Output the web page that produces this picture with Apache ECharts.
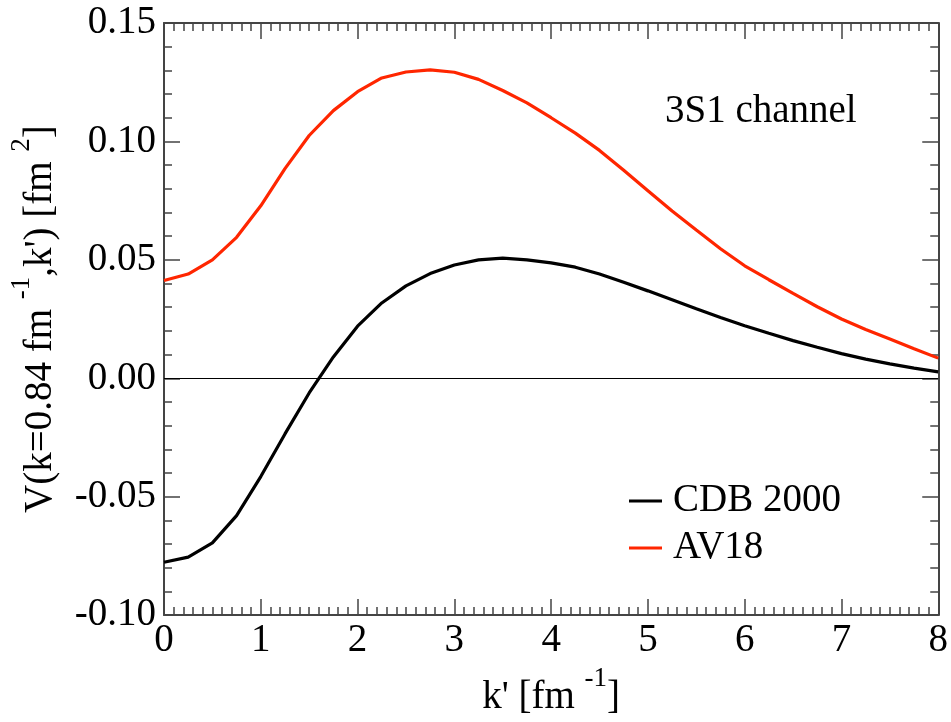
<!DOCTYPE html>
<html>
<head>
<meta charset="utf-8">
<script src="https://cdn.jsdelivr.net/npm/echarts@6/dist/echarts.min.js"></script>
<style>
html,body{margin:0;padding:0;background:#fff;}
#chart{width:951px;height:722px;position:relative;z-index:1;background:#fff;}
#fontwarm{position:absolute;left:0;top:0;font:39px 'Liberation Serif';color:#fff;z-index:0;}
</style>
</head>
<body>
<span id="fontwarm">0.15 CDB 2000 AV18 3S1 channel k' [fm]</span>
<div id="chart"></div>
<script>
// k' values [fm^-1]
const kPrime = [0, 0.25, 0.5, 0.75, 1.0, 1.25, 1.5, 1.75, 2.0, 2.25, 2.5, 2.75, 3.0, 3.25, 3.5, 3.75,
  4.0, 4.25, 4.5, 4.75, 5.0, 5.25, 5.5, 5.75, 6.0, 6.25, 6.5, 6.75, 7.0, 7.25, 7.5, 7.75, 8.0];
// CDB 2000
const cdb2000 = [-0.0777, -0.0755, -0.0695, -0.0580, -0.0415, -0.0235, -0.0062, 0.0090, 0.0220, 0.0318,
  0.0390, 0.0442, 0.0478, 0.0500, 0.0507, 0.0500, 0.0487, 0.0469, 0.0440, 0.0405, 0.0369, 0.0331,
  0.0293, 0.0257, 0.0222, 0.0190, 0.0159, 0.0131, 0.0104, 0.0081, 0.0061, 0.0043, 0.0027];
// AV18
const av18 = [0.0413, 0.0440, 0.0500, 0.0595, 0.0728, 0.0885, 0.1025, 0.1130, 0.1210, 0.1268,
  0.1293, 0.1302, 0.1292, 0.1262, 0.1215, 0.1163, 0.1100, 0.1035, 0.0962, 0.0878, 0.0792, 0.0706,
  0.0626, 0.0547, 0.0475, 0.0416, 0.0358, 0.0302, 0.0250, 0.0206, 0.0166, 0.0125, 0.0085];
const seriesNames = ['CDB 2000', 'AV18'];
const xTicks = {min: 0, max: 8, interval: 1};
const yTicks = {min: -0.10, max: 0.15, interval: 0.05};
const annotation = '3S1 channel';

const FONT = 'Liberation Serif';
const AX = '#444';

function pairs(ys) { return kPrime.map((k, i) => [k, ys[i]]); }

const richMain = {fontFamily: FONT, fontSize: 39, color: '#000', lineHeight: 52, verticalAlign: 'bottom'};
const richSup = {fontFamily: FONT, fontSize: 27, color: '#000', lineHeight: 27, verticalAlign: 'top'};

function axisCommon(showLabels, pos) {
  return {
    position: pos,
    axisLine: {show: true, onZero: false, lineStyle: {color: AX, width: 2}},
    axisTick: {show: true, inside: true, length: 16, lineStyle: {color: AX, width: 1.5}},
    minorTick: {show: true, length: 8, lineStyle: {color: AX, width: 1.5}},
    splitLine: {show: false},
    minorSplitLine: {show: false},
    axisLabel: {show: showLabels, fontFamily: FONT, fontSize: 39, color: '#000'}
  };
}

let drawn = false;
function render() {
  if (drawn) return;
  drawn = true;
  const chart = echarts.init(document.getElementById('chart'));
  const xBottom = Object.assign(axisCommon(true, 'bottom'), {
    type: 'value', min: xTicks.min, max: xTicks.max, interval: xTicks.interval,
    name: '{m|k\' [fm }{s|-1}{m|]}', nameLocation: 'middle', nameGap: 36,
    nameTextStyle: {fontFamily: FONT, rich: {m: richMain, s: richSup}}
  });
  xBottom.minorTick.splitNumber = 10;
  xBottom.axisLabel.margin = 6;
  xBottom.axisLabel.formatter = v => String(v);
  const xTop = Object.assign(axisCommon(false, 'top'), {
    type: 'value', min: xTicks.min, max: xTicks.max, interval: xTicks.interval
  });
  xTop.minorTick.splitNumber = 10;
  const yLeft = Object.assign(axisCommon(true, 'left'), {
    type: 'value', min: yTicks.min, max: yTicks.max, interval: yTicks.interval,
    name: '{m|V(k=0.84 fm }{s|-1}{m|,k\') [fm }{s|2}{m|]}', nameLocation: 'middle', nameGap: 104, nameRotate: 90,
    nameTextStyle: {fontFamily: FONT, rich: {m: richMain, s: richSup}}
  });
  yLeft.minorTick.splitNumber = 5;
  yLeft.axisLabel.margin = 8;
  yLeft.axisLabel.formatter = v => v.toFixed(2);
  const yRight = Object.assign(axisCommon(false, 'right'), {
    type: 'value', min: yTicks.min, max: yTicks.max, interval: yTicks.interval
  });
  yRight.minorTick.splitNumber = 5;

  chart.setOption({
    animation: false,
    backgroundColor: '#fff',
    textStyle: {fontFamily: FONT},
    grid: {left: 163, right: 10, top: 23, bottom: 94, containLabel: false},
    xAxis: [xBottom, xTop],
    yAxis: [yLeft, yRight],
    legend: {
      orient: 'vertical', left: 624, top: 476, itemWidth: 33, itemHeight: 3, itemGap: 7, icon: 'rect',
      textStyle: {fontFamily: FONT, fontSize: 39, color: '#000', lineHeight: 40, padding: [0, 0, 0, 6]},
      data: seriesNames
    },
    graphic: [{
      type: 'text', left: 665, top: 92,
      style: {text: annotation, fontFamily: FONT, fontSize: 39, fill: '#000'}
    }],
    series: [
      {
        name: seriesNames[0], type: 'line', xAxisIndex: 0, yAxisIndex: 0, data: pairs(cdb2000),
        showSymbol: false, symbol: 'none', lineStyle: {color: '#000', width: 3.2}, itemStyle: {color: '#000'},
        z: 3,
        markLine: {
          silent: true, symbol: 'none', label: {show: false},
          lineStyle: {color: '#000', width: 1.2, type: 'solid'},
          data: [{yAxis: 0}]
        }
      },
      {
        name: seriesNames[1], type: 'line', xAxisIndex: 0, yAxisIndex: 0, data: pairs(av18),
        showSymbol: false, symbol: 'none', lineStyle: {color: '#ff2600', width: 3.2}, itemStyle: {color: '#ff2600'},
        z: 3
      }
    ]
  });
}

if (document.fonts && document.fonts.load) {
  Promise.all([
    document.fonts.load('39px "Liberation Serif"'),
    document.fonts.load('27px "Liberation Serif"')
  ]).then(render, render);
  setTimeout(render, 400);
} else {
  render();
}
</script>
</body>
</html>
